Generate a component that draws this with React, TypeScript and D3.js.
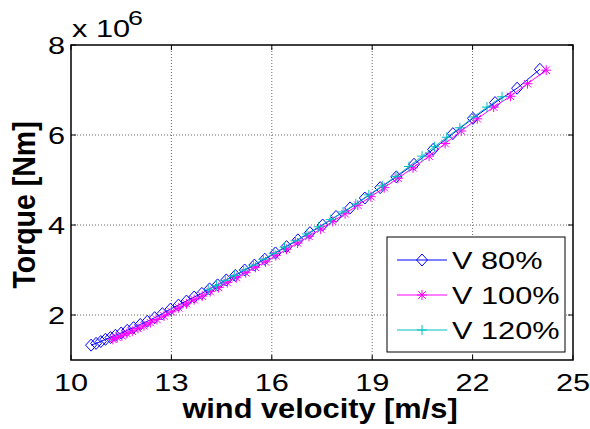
import React from 'react';
import * as d3 from 'd3';

// V 80% (blue diamonds)
const windV80 = [10.60, 10.75, 10.89, 11.03, 11.18, 11.33, 11.50, 11.68, 11.87, 12.07, 12.28, 12.50, 12.73, 12.97, 13.21, 13.45, 13.68, 13.91, 14.14, 14.38, 14.64, 14.91, 15.19, 15.48, 15.79, 16.11, 16.44, 16.78, 17.14, 17.52, 17.92, 18.34, 18.78, 19.24, 19.72, 20.25, 20.82, 21.41, 22.01, 22.67, 23.33, 24.01];
const torqueV80 = [1.33, 1.37, 1.41, 1.46, 1.50, 1.55, 1.60, 1.66, 1.72, 1.79, 1.86, 1.94, 2.03, 2.13, 2.22, 2.31, 2.40, 2.48, 2.58, 2.67, 2.78, 2.88, 3.00, 3.11, 3.24, 3.38, 3.52, 3.67, 3.83, 4.00, 4.19, 4.38, 4.60, 4.83, 5.07, 5.35, 5.68, 6.03, 6.37, 6.72, 7.04, 7.46];

// V 100% (magenta asterisks)
const windV100 = [11.25, 11.38, 11.52, 11.67, 11.83, 12.00, 12.18, 12.37, 12.57, 12.78, 13.00, 13.22, 13.45, 13.68, 13.92, 14.16, 14.41, 14.67, 14.94, 15.22, 15.51, 15.81, 16.12, 16.44, 16.77, 17.11, 17.46, 17.82, 18.19, 18.57, 18.96, 19.36, 19.77, 20.22, 20.70, 21.18, 21.66, 22.14, 22.63, 23.13, 23.64, 24.20];
const torqueV100 = [1.46, 1.50, 1.54, 1.59, 1.64, 1.70, 1.76, 1.83, 1.90, 1.98, 2.07, 2.16, 2.25, 2.34, 2.42, 2.52, 2.61, 2.72, 2.83, 2.94, 3.06, 3.18, 3.32, 3.46, 3.60, 3.75, 3.91, 4.08, 4.25, 4.44, 4.63, 4.83, 5.04, 5.27, 5.53, 5.81, 6.09, 6.36, 6.62, 6.86, 7.14, 7.44];

// V 120% (cyan plus)
const windV120 = [14.10, 14.35, 14.61, 14.88, 15.16, 15.45, 15.75, 16.06, 16.38, 16.71, 17.05, 17.40, 17.76, 18.13, 18.51, 18.90, 19.30, 19.71, 20.10, 20.49, 20.86, 21.23, 21.62, 22.03, 22.43, 22.88];
const torqueV120 = [2.56, 2.66, 2.77, 2.88, 3.00, 3.11, 3.24, 3.37, 3.51, 3.65, 3.80, 3.96, 4.12, 4.29, 4.47, 4.67, 4.87, 5.08, 5.30, 5.53, 5.74, 5.95, 6.16, 6.40, 6.62, 6.85];

const xTicks = [10, 13, 16, 19, 22, 25];
const yTicks = [2, 4, 6, 8];
const legendLabels = ['V 80%', 'V 100%', 'V 120%'];

const W = 590, H = 429;
const left = 71, right = 573, top = 45, bottom = 360;
const font = 'Arial, "Liberation Sans", Helvetica, sans-serif';
// the picture is wider than it is tall, text included
const sx = 1.28;

type Marker = 'diamond' | 'star' | 'plus';

const markerPath = (kind: Marker, cx: number, cy: number) => {
    const r = 5;
    if (kind === 'diamond') {
        return `M${cx},${cy - 6}L${cx + 5.5},${cy}L${cx},${cy + 6}L${cx - 5.5},${cy}Z`;
    }
    if (kind === 'plus') {
        return `M${cx - r},${cy}H${cx + r}M${cx},${cy - r}V${cy + r}`;
    }
    const d = r * 0.75;
    return `M${cx - r},${cy}H${cx + r}M${cx},${cy - r}V${cy + r}` +
        `M${cx - d},${cy - d}L${cx + d},${cy + d}M${cx - d},${cy + d}L${cx + d},${cy - d}`;
};

const App = () => {
    const x = d3.scaleLinear().domain([10, 25]).range([left, right]);
    const y = d3.scaleLinear().domain([1, 8]).range([bottom, top]);

    const series = [
        { name: legendLabels[0], xs: windV80, ys: torqueV80, color: '#0000ff', marker: 'diamond' as Marker },
        { name: legendLabels[1], xs: windV100, ys: torqueV100, color: '#ff00ff', marker: 'star' as Marker },
        { name: legendLabels[2], xs: windV120, ys: torqueV120, color: '#00bfbf', marker: 'plus' as Marker },
    ];

    const line = d3.line<[number, number]>()
        .x(d => x(d[0]))
        .y(d => y(d[1]));

    const legX = 387, legY = 237, legW = 178, legH = 115;
    const rowY = [260, 295, 330];

    return (
        <svg width={W} height={H} style={{ display: 'block', position: 'absolute', left: 0, top: 0, background: '#fff' }}>
            <rect x={0} y={0} width={W} height={H} fill="#fff" />

            {/* grid */}
            {xTicks.filter(t => t > 10 && t < 25).map(t => (
                <line key={'gx' + t} x1={x(t)} x2={x(t)} y1={top} y2={bottom}
                    stroke="#6a6a6a" strokeWidth={1} strokeDasharray="1,2" />
            ))}
            {yTicks.filter(t => t < 8).map(t => (
                <line key={'gy' + t} x1={left} x2={right} y1={y(t)} y2={y(t)}
                    stroke="#6a6a6a" strokeWidth={1} strokeDasharray="1,2" />
            ))}

            {/* series */}
            {series.map(s => {
                const pts = s.xs.map((v, i) => [v, s.ys[i]] as [number, number]);
                return (
                    <g key={s.name}>
                        <path d={line(pts) || ''} fill="none" stroke={s.color} strokeWidth={1} />
                        {pts.map((p, i) => (
                            <path key={i} d={markerPath(s.marker, x(p[0]), y(p[1]))}
                                fill="none" stroke={s.color} strokeWidth={1} />
                        ))}
                    </g>
                );
            })}

            {/* axes box + ticks */}
            <rect x={left} y={top} width={right - left} height={bottom - top} fill="none" stroke="#000" strokeWidth={1.5} />
            {xTicks.map(t => (
                <g key={'tx' + t}>
                    <line x1={x(t)} x2={x(t)} y1={bottom} y2={bottom - 5} stroke="#000" />
                    <line x1={x(t)} x2={x(t)} y1={top} y2={top + 5} stroke="#000" />
                    <text transform={`translate(${x(t)},391) scale(${sx},1)`} textAnchor="middle"
                        fontFamily={font} fontSize={24}>{t}</text>
                </g>
            ))}
            {yTicks.map(t => (
                <g key={'ty' + t}>
                    <line x1={left} x2={left + 5} y1={y(t)} y2={y(t)} stroke="#000" />
                    <line x1={right} x2={right - 5} y1={y(t)} y2={y(t)} stroke="#000" />
                    <text transform={`translate(65,${y(t) + 8.6}) scale(${sx},1)`} textAnchor="end"
                        fontFamily={font} fontSize={24}>{t}</text>
                </g>
            ))}

            {/* exponent */}
            <text transform={`translate(72,37) scale(${sx},1)`} fontFamily={font} fontSize={24}>x 10</text>
            <text transform={`translate(128,25) scale(${sx},1)`} fontFamily={font} fontSize={21}>6</text>

            {/* axis labels */}
            <text transform={`translate(320,418) scale(1.14,1)`} textAnchor="middle" fontFamily={font}
                fontSize={27} fontWeight="bold">wind velocity [m/s]</text>
            <text transform={`translate(35,205) rotate(-90) scale(1,1.12)`} textAnchor="middle"
                fontFamily={font} fontSize={28.5} fontWeight="bold">Torque [Nm]</text>

            {/* legend */}
            <rect x={legX} y={legY} width={legW} height={legH} fill="#fff" stroke="#000" strokeWidth={1} />
            {series.map((s, i) => (
                <g key={'leg' + s.name}>
                    <line x1={397} x2={447} y1={rowY[i]} y2={rowY[i]} stroke={s.color} strokeWidth={1} />
                    <path d={markerPath(s.marker, 422, rowY[i])} fill="none" stroke={s.color} strokeWidth={1} />
                    <text transform={`translate(452,${rowY[i] + 8.6}) scale(${sx},1)`}
                        fontFamily={font} fontSize={24}>{s.name}</text>
                </g>
            ))}
        </svg>
    );
};

export default App;
